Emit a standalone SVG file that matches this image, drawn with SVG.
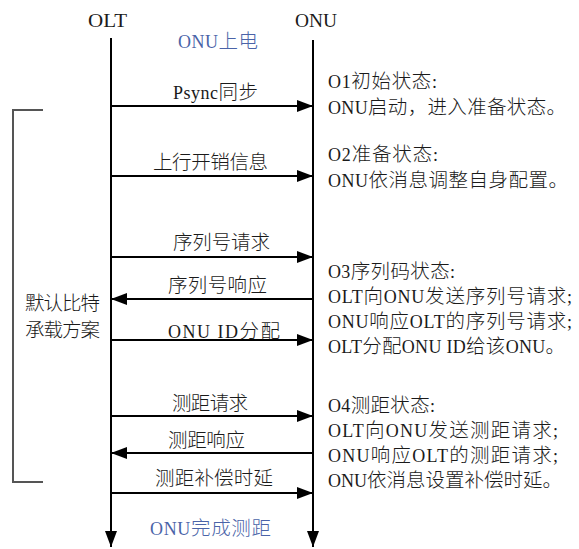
<svg xmlns="http://www.w3.org/2000/svg" width="579" height="549" viewBox="0 0 579 549">
<style>
.t{font-family:"Liberation Serif","Noto Sans CJK SC",serif;font-size:18px;fill:#1a1a1a}
.h{font-family:"Liberation Serif","Noto Sans CJK SC",serif;font-size:19px;fill:#1a1a1a}
.b{font-family:"Liberation Serif","Noto Sans CJK SC",serif;font-size:18px;fill:#4a63a8}
.k{font-size:19.5px;font-weight:300}
.ln{stroke:#000;stroke-width:2;fill:none}
.br{stroke:#555;stroke-width:2;fill:none}
</style>
<defs>
<marker id="ah" markerUnits="userSpaceOnUse" markerWidth="17" markerHeight="13" refX="16" refY="6.5" orient="auto">
<path d="M0,0.5 L16,6.5 L0,12.5 Z" fill="#000"/>
</marker>
</defs>
<g id="lifelines">
<g id="olt">
<text class="h" x="88" y="27" textLength="39" lengthAdjust="spacingAndGlyphs">OLT</text>
<line class="ln" x1="111" y1="38" x2="111" y2="547" marker-end="url(#ah)"/>
</g>
<g id="onu">
<text class="h" x="295" y="27" textLength="42" lengthAdjust="spacingAndGlyphs">ONU</text>
<line class="ln" x1="313" y1="40" x2="313" y2="547" marker-end="url(#ah)"/>
</g>
</g>
<g id="events">
<text class="b" x="178" y="48" textLength="80" lengthAdjust="spacing">ONU<tspan class="k">上电</tspan></text>
<text class="b" x="150" y="535" textLength="121" lengthAdjust="spacing">ONU<tspan class="k">完成测距</tspan></text>
</g>
<g id="bracket">
<path class="br" d="M43,110 H13 V482 H43"/>
<text class="t" x="25" y="310" textLength="75" lengthAdjust="spacing"><tspan class="k">默认比特</tspan></text>
<text class="t" x="25" y="337" textLength="75" lengthAdjust="spacing"><tspan class="k">承载方案</tspan></text>
</g>
<g id="connectors">
<line class="ln" x1="111" y1="106" x2="313" y2="106" marker-end="url(#ah)"/>
<line class="ln" x1="111" y1="176" x2="313" y2="176" marker-end="url(#ah)"/>
<line class="ln" x1="111" y1="257" x2="313" y2="257" marker-end="url(#ah)"/>
<line class="ln" x1="313" y1="299" x2="111" y2="299" marker-end="url(#ah)"/>
<line class="ln" x1="111" y1="340" x2="313" y2="340" marker-end="url(#ah)"/>
<line class="ln" x1="111" y1="416" x2="313" y2="416" marker-end="url(#ah)"/>
<line class="ln" x1="313" y1="453" x2="111" y2="453" marker-end="url(#ah)"/>
<line class="ln" x1="111" y1="493" x2="313" y2="493" marker-end="url(#ah)"/>
</g>
<g id="labels">
<text class="t" x="173" y="99" textLength="85" lengthAdjust="spacing">Psync<tspan class="k">同步</tspan></text>
<text class="t" x="153" y="169" textLength="115" lengthAdjust="spacing"><tspan class="k">上行开销信息</tspan></text>
<text class="t" x="173" y="249" textLength="97" lengthAdjust="spacing"><tspan class="k">序列号请求</tspan></text>
<text class="t" x="168" y="292" textLength="99" lengthAdjust="spacing"><tspan class="k">序列号响应</tspan></text>
<text class="t" x="168" y="338" textLength="112" lengthAdjust="spacing">ONU  ID<tspan class="k">分配</tspan></text>
<text class="t" x="172" y="410" textLength="76" lengthAdjust="spacing"><tspan class="k">测距请求</tspan></text>
<text class="t" x="168" y="447" textLength="77" lengthAdjust="spacing"><tspan class="k">测距响应</tspan></text>
<text class="t" x="155" y="485" textLength="118" lengthAdjust="spacing"><tspan class="k">测距补偿时延</tspan></text>
</g>
<g id="states">
<g id="o1">
<text class="t" x="328" y="88" textLength="109" lengthAdjust="spacing">O1<tspan class="k">初始状态</tspan>:</text>
<text class="t" x="328" y="114" textLength="238" lengthAdjust="spacing">ONU<tspan class="k">启动，进入准备状态。</tspan></text>
</g>
<g id="o2">
<text class="t" x="328" y="161" textLength="110" lengthAdjust="spacing">O2<tspan class="k">准备状态</tspan>:</text>
<text class="t" x="328" y="187" textLength="240" lengthAdjust="spacing">ONU<tspan class="k">依消息调整自身配置。</tspan></text>
</g>
<g id="o3">
<text class="t" x="328" y="278" textLength="127" lengthAdjust="spacing">O3<tspan class="k">序列码状态</tspan>:</text>
<text class="t" x="328" y="303" textLength="244" lengthAdjust="spacing">OLT<tspan class="k">向</tspan>ONU<tspan class="k">发送序列号请求</tspan>;</text>
<text class="t" x="328" y="328" textLength="244" lengthAdjust="spacing">ONU<tspan class="k">响应</tspan>OLT<tspan class="k">的序列号请求</tspan>;</text>
<text class="t" x="328" y="353" textLength="237" lengthAdjust="spacing">OLT<tspan class="k">分配</tspan>ONU ID<tspan class="k">给该</tspan>ONU<tspan class="k">。</tspan></text>
</g>
<g id="o4">
<text class="t" x="328" y="412" textLength="107" lengthAdjust="spacing">O4<tspan class="k">测距状态</tspan>:</text>
<text class="t" x="328" y="437" textLength="230" lengthAdjust="spacing">OLT<tspan class="k">向</tspan>ONU<tspan class="k">发送测距请求</tspan>;</text>
<text class="t" x="328" y="462" textLength="230" lengthAdjust="spacing">ONU<tspan class="k">响应</tspan>OLT<tspan class="k">的测距请求</tspan>;</text>
<text class="t" x="328" y="487" textLength="234" lengthAdjust="spacing">ONU<tspan class="k">依消息设置补偿时延。</tspan></text>
</g>
</g>
</svg>
